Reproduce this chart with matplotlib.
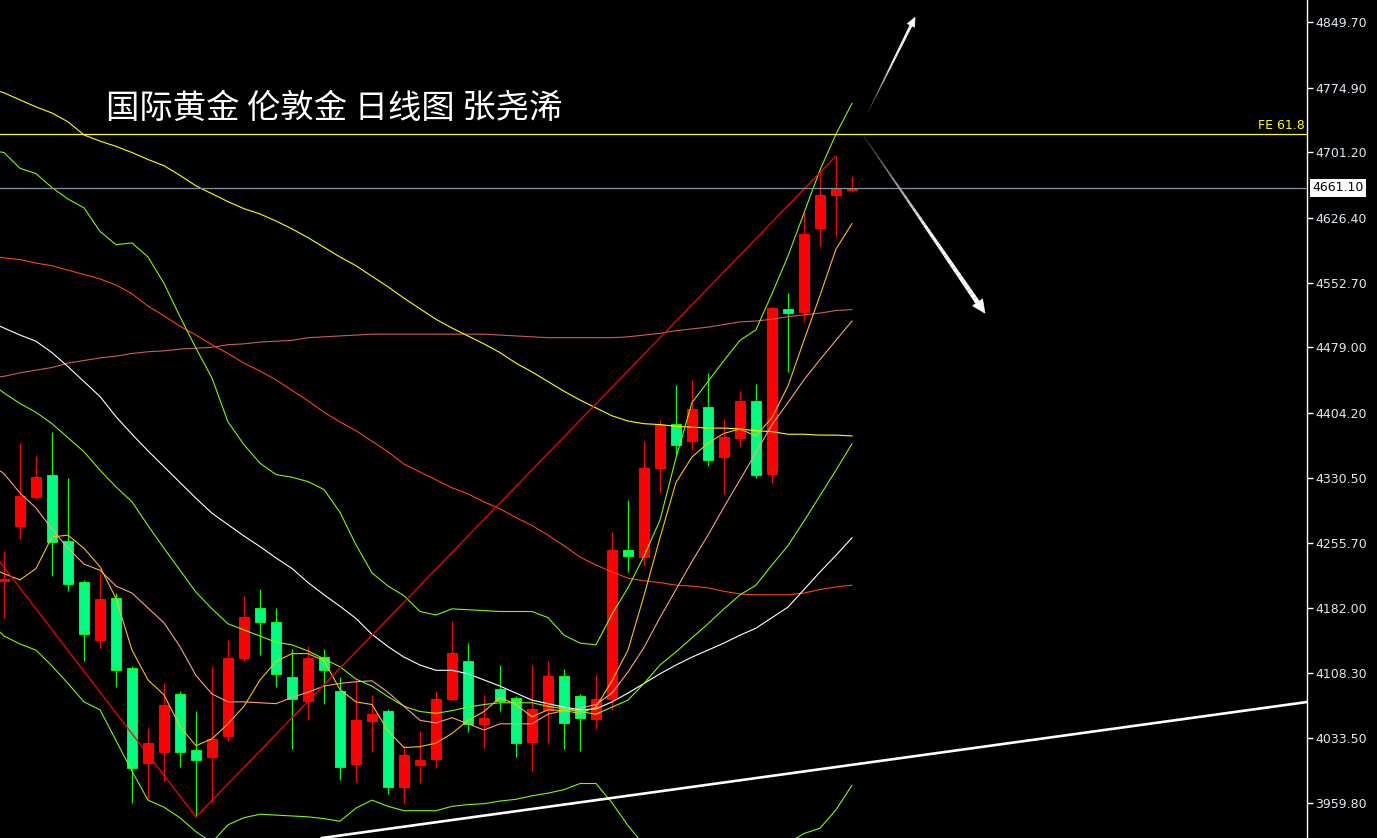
import numpy as np
import matplotlib
matplotlib.use('Agg')
import matplotlib.pyplot as plt
import matplotlib.colors as mcolors
from matplotlib.collections import LineCollection
from matplotlib.patches import Polygon
from matplotlib.transforms import IdentityTransform, blended_transform_factory

# daily candles, oldest first
opens = np.array([4212.8, 4275.4, 4308.5, 4333.5, 4258.3, 4211.6, 4145.5, 4193.4, 4113.6, 4005.4,
                  4017.9, 4084.0, 4020.2, 4012.2, 4036.2, 4125.0, 4182.0, 4166.0, 4103.4, 4076.0,
                  4126.2, 4087.4, 4004.2, 4053.2, 4064.6, 3978.0, 4003.1, 4009.9, 4078.3, 4121.6,
                  4049.8, 4089.7, 4079.5, 4029.3, 4065.8, 4104.5, 4081.7, 4055.5, 4078.3, 4248.1,
                  4240.1, 4341.5, 4391.7, 4372.3, 4411.0, 4354.1, 4375.7, 4417.9, 4334.7, 4522.7,
                  4519.3, 4615.0, 4652.6, 4658.3])
closes = np.array([4215.0, 4309.6, 4331.3, 4257.2, 4209.3, 4152.4, 4192.3, 4111.4, 3999.7, 4028.2,
                   4071.5, 4017.9, 4008.8, 4032.7, 4125.0, 4171.7, 4166.0, 4106.8, 4078.3, 4125.0,
                   4111.4, 4000.8, 4054.4, 4061.2, 3978.0, 4014.5, 4008.8, 4078.3, 4130.7, 4049.8,
                   4056.7, 4076.0, 4028.2, 4066.9, 4104.5, 4051.0, 4056.7, 4078.3, 4248.1, 4241.3,
                   4341.5, 4390.5, 4367.7, 4408.7, 4350.6, 4376.8, 4417.9, 4333.5, 4523.8, 4518.1,
                   4608.1, 4652.6, 4660.6, 4661.1])
highs = np.array([4246.9, 4370.0, 4355.2, 4382.5, 4330.1, 4213.9, 4221.9, 4199.1, 4115.9, 4045.3,
                  4096.5, 4087.4, 4064.6, 4115.9, 4145.5, 4195.7, 4203.7, 4182.0, 4135.3, 4138.7,
                  4135.3, 4103.4, 4100.0, 4082.9, 4066.9, 4024.8, 4041.9, 4087.4, 4167.2, 4142.1,
                  4082.9, 4117.1, 4081.7, 4117.1, 4121.6, 4112.5, 4084.0, 4106.8, 4268.6, 4305.1,
                  4372.3, 4396.2, 4436.1, 4441.8, 4449.8, 4397.4, 4429.3, 4437.2, 4525.0, 4540.9,
                  4634.4, 4681.1, 4697.0, 4674.2])
lows = np.array([4170.6, 4260.6, 4306.2, 4218.5, 4201.4, 4121.6, 4136.4, 4092.0, 3959.8, 3964.4,
                 3984.9, 4000.8, 3943.9, 3959.8, 4030.5, 4121.6, 4128.4, 4092.0, 4021.3, 4054.4,
                 4072.6, 3986.0, 3983.7, 4017.9, 3970.1, 3959.8, 3982.6, 3999.7, 4077.2, 4040.7,
                 4022.5, 4064.6, 4012.2, 3996.3, 4028.2, 4021.3, 4019.1, 4044.1, 4065.8, 4223.0,
                 4229.9, 4313.0, 4356.3, 4362.0, 4343.8, 4311.9, 4366.6, 4330.1, 4324.4, 4450.9,
                 4507.9, 4594.5, 4604.7, 4656.0])

# indicator lines, starting one bar before the first visible candle
ma5 = [4230, 4221, 4214, 4227, 4263, 4265, 4250, 4229, 4193, 4134, 4100, 4083, 4047, 4025, 4033,
       4050, 4070, 4100, 4121, 4130, 4130, 4122, 4089, 4075, 4072, 4042, 4023, 4024, 4028, 4039,
       4054, 4064, 4080, 4072, 4058, 4066, 4065, 4062, 4069, 4099, 4134, 4196, 4262, 4325, 4354,
       4370, 4381, 4386, 4378, 4399, 4435, 4487, 4538, 4591, 4620]
ma10 = [4348, 4335, 4313, 4296, 4272, 4250, 4232, 4225, 4207, 4199, 4182, 4165, 4138, 4105, 4084,
        4075, 4075, 4074, 4073, 4080, 4086, 4093, 4096, 4098, 4099, 4086, 4070, 4054, 4051, 4057,
        4050, 4043, 4050, 4050, 4050, 4061, 4065, 4068, 4072, 4085, 4109, 4137, 4171, 4203, 4235,
        4265, 4297, 4328, 4359, 4391, 4416, 4442, 4465, 4487, 4509]
boll_mid = [4441, 4427, 4415, 4405, 4392, 4376, 4360, 4339, 4320, 4303, 4276, 4250, 4225, 4200, 4181,
            4164, 4157, 4150, 4143, 4140, 4133, 4124, 4115, 4101, 4093, 4081, 4070, 4064, 4062, 4065,
            4069, 4072, 4074, 4074, 4074, 4070, 4067, 4064, 4061, 4069, 4077, 4096, 4117, 4132, 4148,
            4164, 4181, 4197, 4208, 4231, 4253, 4281, 4310, 4339, 4369]
boll_up = [4704, 4701, 4683, 4677, 4661, 4648, 4638, 4611, 4596, 4598, 4582, 4552, 4514, 4478, 4444,
           4394, 4368, 4347, 4334, 4331, 4326, 4317, 4291, 4254, 4222, 4207, 4196, 4178, 4174, 4181,
           4180, 4179, 4178, 4178, 4178, 4171, 4151, 4142, 4140, 4175, 4205, 4241, 4282, 4353, 4416,
           4440, 4464, 4487, 4499, 4540, 4583, 4632, 4681, 4722, 4757]
boll_low = [4168, 4150, 4141, 4134, 4116, 4096, 4075, 4066, 4031, 3996, 3963, 3955, 3943, 3927, 3915,
            3935, 3943, 3947, 3946, 3945, 3944, 3942, 3939, 3954, 3963, 3956, 3951, 3951, 3951, 3956,
            3958, 3959, 3962, 3964, 3968, 3971, 3975, 3982, 3982, 3960, 3934, 3912, 3895, 3881, 3872,
            3868, 3868, 3874, 3886, 3900, 3914, 3925, 3931, 3952, 3980]
ma_white = [4509, 4501, 4493, 4486, 4473, 4457, 4440, 4423, 4400, 4380, 4361, 4343, 4325, 4307, 4290,
            4277, 4264, 4252, 4239, 4227, 4211, 4197, 4184, 4170, 4152, 4138, 4126, 4117, 4111, 4111,
            4107, 4100, 4093, 4085, 4077, 4073, 4069, 4066, 4067, 4075, 4085, 4096, 4107, 4117, 4126,
            4134, 4142, 4151, 4159, 4171, 4183, 4203, 4223, 4242, 4262]
ma_yellow = [4775, 4769, 4761, 4753, 4746, 4736, 4721, 4714, 4708, 4701, 4693, 4686, 4675, 4663, 4654,
             4645, 4637, 4631, 4623, 4614, 4604, 4593, 4582, 4572, 4560, 4548, 4535, 4523, 4511, 4501,
             4492, 4483, 4473, 4461, 4451, 4440, 4429, 4419, 4410, 4401, 4395, 4392, 4391, 4389, 4388,
             4387, 4387, 4386, 4384, 4383, 4380, 4380, 4379, 4379, 4378]
ma_orange = [4583, 4581, 4579, 4575, 4572, 4567, 4562, 4557, 4550, 4540, 4526, 4515, 4503, 4493, 4482,
             4472, 4461, 4452, 4442, 4430, 4418, 4405, 4394, 4384, 4372, 4360, 4346, 4337, 4328, 4319,
             4312, 4303, 4295, 4285, 4276, 4265, 4253, 4240, 4231, 4223, 4216, 4213, 4211, 4208, 4207,
             4205, 4201, 4198, 4197, 4197, 4197, 4199, 4203, 4206, 4208]
ma_long = [4444, 4446, 4450, 4453, 4456, 4461, 4464, 4467, 4469, 4472, 4474, 4475, 4477, 4478, 4479,
           4482, 4483, 4485, 4486, 4487, 4490, 4491, 4492, 4493, 4494, 4494, 4494, 4494, 4494, 4494,
           4494, 4494, 4493, 4492, 4491, 4490, 4490, 4490, 4490, 4490, 4491, 4493, 4495, 4498, 4500,
           4502, 4505, 4508, 4509, 4511, 4514, 4516, 4518, 4521, 4522]

# zigzag pivots (bar index, price)
zz_idx = [-5, 12, 52]
zz_price = [4347, 3943.9, 4697.0]

# support trend line, FE level, last price
trend_idx = [20.7, 81.5]
trend_price = [3922, 4075]
fe_level = 4722
last_price = 4661.10

y_ticks = [3959.80, 4033.50, 4108.30, 4182.00, 4255.70, 4330.50, 4404.20,
           4479.00, 4552.70, 4626.40, 4701.20, 4774.90, 4849.70]

title = '国际黄金 伦敦金 日线图 张尧浠'


def taper_arrow(ax, p0, p1, w0, w1, head_w, head_l, c0, c1):
    (x0, y0), (x1, y1) = ax.transData.transform([p0, p1])
    start = np.array([x0, y0])
    tip = np.array([x1, y1])
    d = tip - start
    u = d / np.hypot(*d)
    n = np.array([-u[1], u[0]])
    base = tip - u * head_l
    t = np.linspace(0, 1, 40)
    pts = start + np.outer(t, base - start)
    segs = np.stack([pts[:-1], pts[1:]], axis=1)
    widths = (w0 + (w1 - w0) * t[:-1]) * 0.72
    a, b = np.array(mcolors.to_rgb(c0)), np.array(mcolors.to_rgb(c1))
    cols = [a + (b - a) * min(1, tt * 1.8) for tt in t[:-1]]
    lc = LineCollection(segs, linewidths=widths, colors=cols,
                        transform=IdentityTransform(), capstyle='butt', zorder=6)
    ax.add_collection(lc, autolim=False)
    head = Polygon([base + n * head_w / 2, tip, base - n * head_w / 2], closed=True,
                   transform=IdentityTransform(), fc=c1, ec=c1, lw=0.5, zorder=6)
    ax.add_patch(head)


fig = plt.figure(figsize=(13.77, 8.38), dpi=100, facecolor='black')
ax = fig.add_axes([0, 0, 1307 / 1377, 1])
ax.set_facecolor('black')
ax.set_xlim(-0.25, 81.44)
ax.set_ylim(3919.9, 4874.8)

idx = np.arange(len(opens))
ind_x = np.arange(-1, len(opens))

# candles
up = closes >= opens
ax.vlines(idx, lows, highs, colors=np.where(up, '#ff0000', '#00ff00'), linewidth=0.9, zorder=2)
bottoms = np.minimum(opens, closes)
heights = np.abs(closes - opens)
ax.bar(idx[up], heights[up], bottom=bottoms[up], width=0.64, color='#ff0000',
       edgecolor='#ff0000', linewidth=0.75, zorder=3)
ax.bar(idx[~up], heights[~up], bottom=bottoms[~up], width=0.64, color='#00ff7f',
       edgecolor='#00ff00', linewidth=0.75, zorder=3)

# indicators
lw = 0.8
ax.plot(ind_x, ma_long, color='#cd5c5c', lw=lw, zorder=4)
ax.plot(ind_x, ma_orange, color='#ff4500', lw=lw, zorder=4)
ax.plot(ind_x, ma_yellow, color='#ffff00', lw=lw, zorder=4)
ax.plot(ind_x, ma_white, color='#ffffff', lw=lw, zorder=4)
ax.plot(ind_x, boll_up, color='#7cfc00', lw=lw, zorder=4)
ax.plot(ind_x, boll_mid, color='#7cfc00', lw=lw, zorder=4)
ax.plot(ind_x, boll_low, color='#7cfc00', lw=lw, zorder=4)
ax.plot(ind_x, ma10, color='#ffa07a', lw=lw, zorder=4)
ax.plot(ind_x, ma5, color='#ffc000', lw=lw, zorder=4)
ax.plot(zz_idx, zz_price, color='#ff0000', lw=0.9, zorder=4)

# levels and trend line
ax.axhline(fe_level, color='#ffff00', lw=0.9, zorder=5)
ax.axhline(last_price, color='#8190a0', lw=0.9, zorder=5)
ax.axline((trend_idx[0], trend_price[0]), (trend_idx[1], trend_price[1]),
          color='white', lw=1.9, zorder=5)

bt = blended_transform_factory(ax.transAxes, ax.transData)
ax.text(1305 / 1307, fe_level + 2, 'FE 61.8', transform=bt, ha='right', va='bottom',
        color='#ffff00', fontsize=9)

# forecast arrows
taper_arrow(ax, (54.0, 4747), (56.94, 4855), 0.8, 3.0, 8, 9, '#202020', '#ffffff')
taper_arrow(ax, (53.69, 4721), (61.31, 4518), 0.8, 5.0, 12, 13, '#303030', '#ffffff')

# title
ax.text(106 / 1307, 1 - 108 / 838, title, transform=ax.transAxes, ha='left', va='center',
        color='white', fontsize=24, fontweight='medium',
        family=['Noto Sans CJK SC', 'DejaVu Sans'])

# price axis on the right
ax.set_xticks([])
ax.yaxis.tick_right()
ax.set_yticks(y_ticks)
ax.set_yticklabels([f'{v:.2f}' for v in y_ticks])
ax.tick_params(axis='y', colors='white', labelcolor='#dfe8f2', length=4, width=1,
               direction='out', pad=2, labelsize=9)
for s in ['left', 'top', 'bottom']:
    ax.spines[s].set_visible(False)
ax.spines['right'].set_color('white')
ax.spines['right'].set_linewidth(1)

ax.text(1 + 5 / 1307, last_price, f'{last_price:.2f}', transform=bt, ha='left', va='center',
        color='black', fontsize=9,
        bbox=dict(boxstyle='square,pad=0.2', fc='white', ec='none'))

fig.savefig('out.png', dpi=100, facecolor='black')
